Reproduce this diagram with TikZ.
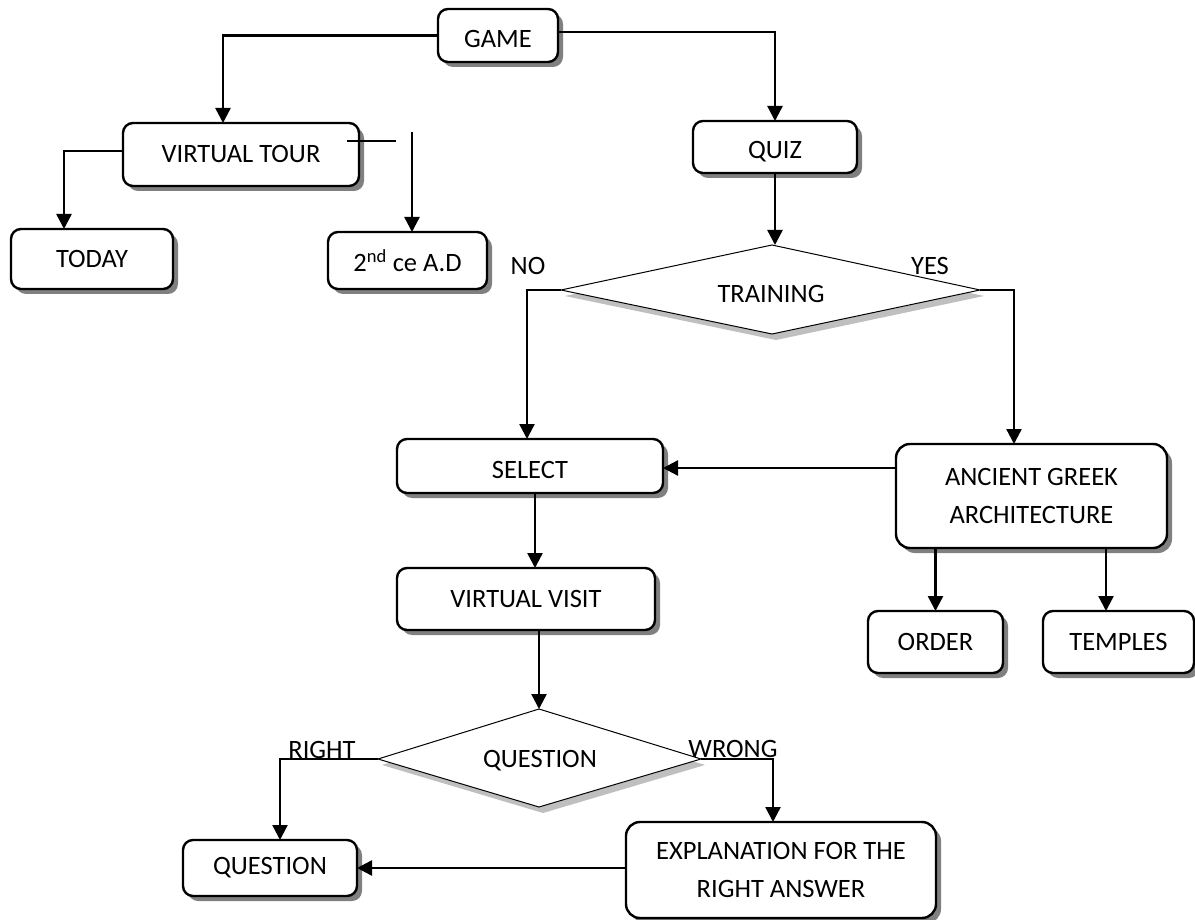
\documentclass[tikz,border=0pt]{standalone}
\usepackage{fontspec}
\setmainfont{Carlito}
\usetikzlibrary{shadows,arrows.meta}
\begin{document}
\begin{tikzpicture}[x=1pt,y=-1pt,
  every node/.style={font=\fontsize{26.5}{38}\selectfont, inner sep=0pt, outer sep=0pt},
  box/.style={draw, line width=2.4pt, rounded corners=10pt, fill=white, align=center,
    drop shadow={shadow xshift=5pt, shadow yshift=-5pt, fill=black!50, opacity=1}},
  dia/.style={draw, line width=1pt, fill=white,
    drop shadow={shadow xshift=4pt, shadow yshift=-6pt, fill=black, opacity=0.25}},
  arr/.style={line width=2.4pt, -{Triangle[length=15pt,width=15pt]}},
  ln/.style={line width=2pt}]
\useasboundingbox (0,0) rectangle (1195,920);

% boxes
\node[box, minimum width=120pt, minimum height=53pt, text height=23.5pt] (game) at (498,35.5) {GAME};
\node[box, minimum width=236pt, minimum height=63pt] (vt) at (241,154.5) {VIRTUAL TOUR};
\node[box, minimum width=162pt, minimum height=60pt] (today) at (92,259) {TODAY};
\node[box, minimum width=159pt, minimum height=57pt] (second) at (407.5,260.5) {2\textsuperscript{nd} ce A.D};
\node[box, minimum width=164pt, minimum height=52pt, text height=26pt] (quiz) at (775,147) {QUIZ};
\node[box, minimum width=266pt, minimum height=54pt, text height=24.5pt] (select) at (530,466) {SELECT};
\node[box, rounded corners=14pt, minimum width=271pt, minimum height=104pt] (anc) at (1031.5,496) {ANCIENT GREEK\\ARCHITECTURE};
\node[box, minimum width=135pt, minimum height=62pt] (order) at (935.5,642) {ORDER};
\node[box, minimum width=151pt, minimum height=62pt] (temples) at (1118.5,642) {TEMPLES};
\node[box, minimum width=258pt, minimum height=62pt] (vv) at (526,599) {VIRTUAL VISIT};
\node[box, minimum width=174pt, minimum height=56pt] (qbox) at (270,868) {QUESTION};
\node[box, rounded corners=14pt, minimum width=310pt, minimum height=96pt] (expl) at (781,870) {EXPLANATION FOR THE\\RIGHT ANSWER};

% diamonds
\coordinate (trN) at (772,245);
\coordinate (trE) at (980,290);
\coordinate (trS) at (772,334);
\coordinate (trW) at (561,290);
\draw[dia] (trN) -- (trE) -- (trS) -- (trW) -- cycle;
\node (training) at (771,294) {TRAINING};

\coordinate (qN) at (539,709);
\coordinate (qE) at (701,759);
\coordinate (qS) at (539,807);
\coordinate (qW) at (378,759);
\draw[dia] (qN) -- (qE) -- (qS) -- (qW) -- cycle;
\node (qtext) at (540,761) {QUESTION};

% labels
\node (lno) at (528,266) {NO};
\node (lyes) at (930,266) {YES};
\node (lright) at (322,750) {RIGHT};
\node (lwrong) at (733,749) {WRONG};

% connectors
\draw[arr] (game.west) -| ([xshift=-18pt]vt.north);
\draw[arr] ([yshift=3.5pt]game.east) -| (quiz.north);
\draw[arr] ([yshift=3.5pt]vt.west) -| ([xshift=-28pt]today.north);
\coordinate (x1) at (347,141);
\coordinate (x2) at (396,141);
\draw[ln] (x1) -- (x2);
\coordinate (s2) at (412,132);
\draw[arr] (s2) -- (s2 |- second.north);
\draw[arr] (quiz.south) -- (quiz.south |- trN);
\draw[arr] (trW) -| ([xshift=-3pt]select.north);
\draw[arr] (trE) -| ([xshift=-17.5pt]anc.north);
\coordinate (sa) at ([yshift=-2pt]select.east);
\draw[arr] (sa -| anc.west) -- (sa);
\coordinate (sv) at ([xshift=5pt]select.south);
\draw[arr] (sv) -- (sv |- vv.north);
\draw[arr] (qN |- vv.south) -- (qN);
\draw[arr] (qW) -| ([xshift=10pt]qbox.north);
\draw[arr] (qE) -| ([xshift=-8pt]expl.north);
\draw[arr] (expl.west |- qbox.east) -- (qbox.east);
\draw[arr] (order.north |- anc.south) -- (order.north);
\coordinate (t1) at ([xshift=-12.5pt]temples.north);
\draw[arr] (t1 |- anc.south) -- (t1);
\end{tikzpicture}
\end{document}
